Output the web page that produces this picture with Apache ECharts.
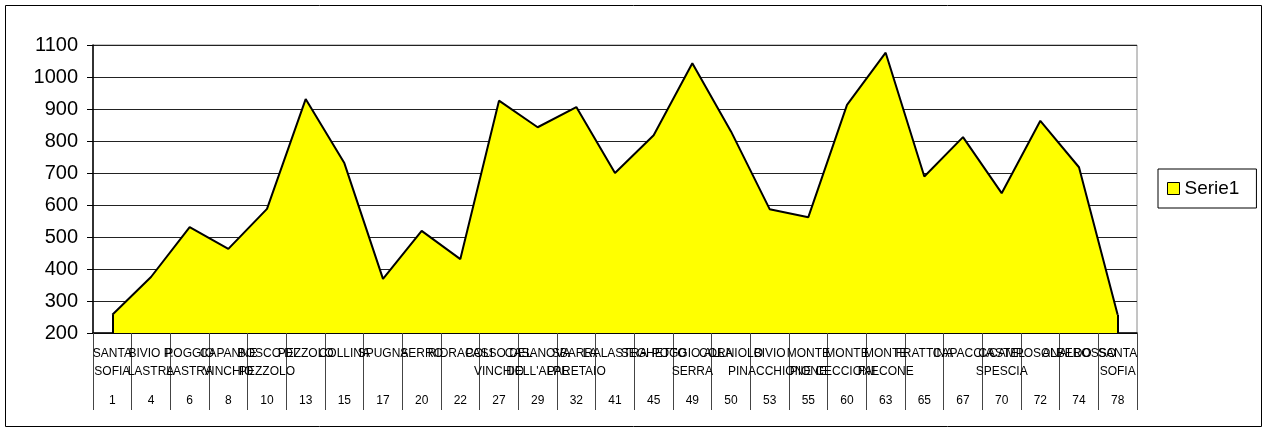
<!DOCTYPE html>
<html>
<head>
<meta charset="utf-8">
<script src="https://cdn.jsdelivr.net/npm/echarts@6/dist/echarts.min.js"></script>
<style>
  html, body { margin: 0; padding: 0; background: #ffffff; }
  #chart { width: 1265px; height: 433px; }
</style>
</head>
<body>
<div id="chart"></div>
<script>
// Route profile: place names, kilometre marks and altitude (m)
const placeNames = [
  'SANTA\nSOFIA', 'BIVIO P.\nLASTRA', 'POGGIO\nLASTRA', 'CAPANNE\nVINCHIO', 'BOSCO DI\nPEZZOLO',
  'PEZZOLO', 'COLLINA', 'SPUGNA', 'SERRO', 'RIDRACOLI',
  'PASSO DEL\nVINCHIO', 'CASANOVA\nDELL\'ALPE', 'SBARRA\nPARETAIO', 'LA LASTRA', 'SEGHETTO',
  'POGGIO ALLA\nSERRA', 'CORNIOLO', 'BIVIO\nPINACCHIONE', 'MONTE\nPIONE', 'MONTE\nCECCIONE',
  'MONTE\nFALCONE', 'FRATTINA', 'CAPACCIA', 'CASTEL\nSPESCIA', 'CAMPOSONALDO',
  'ALBEROSSO', 'SANTA\nSOFIA'
];
const kmMarks = ['1', '4', '6', '8', '10', '13', '15', '17', '20', '22', '27', '29', '32', '41',
  '45', '49', '50', '53', '55', '60', '63', '65', '67', '70', '72', '74', '78'];
const altitude = [257, 375, 531, 463, 588, 931, 731, 369, 519, 431, 926, 843, 906, 700,
  818, 1043, 830, 587, 562, 913, 1076, 689, 812, 637, 863, 718, 257];
const seriesName = 'Serie1';
const yMin = 200;
const yMax = 1100;
const yStep = 100;

const FONT = '"Liberation Sans", Arial, sans-serif';
const chart = echarts.init(document.getElementById('chart'), null, { renderer: 'canvas' });

const last = kmMarks.length - 1;

chart.setOption({
  animation: false,
  backgroundColor: '#ffffff',
  graphic: [{
    type: 'rect',
    shape: { x: 5.5, y: 5.5, width: 1256, height: 421 },
    style: { fill: 'none', stroke: '#000000', lineWidth: 1 },
    silent: true
  }],
  grid: {
    left: 93, right: 128, top: 45, bottom: 100,
    show: true, borderColor: '#8a8a8a', borderWidth: 1
  },
  legend: {
    left: 1158, top: 169,
    orient: 'vertical',
    padding: [10, 17, 10, 9],
    borderColor: '#000000', borderWidth: 1,
    backgroundColor: '#ffffff',
    icon: 'rect',
    itemWidth: 12, itemHeight: 12, itemGap: 8,
    itemStyle: { color: '#FFFF00', borderColor: '#000000', borderWidth: 1 },
    textStyle: { fontFamily: FONT, fontSize: 19, color: '#000000' },
    data: [seriesName]
  },
  xAxis: {
    type: 'category',
    data: kmMarks,
    boundaryGap: true,
    axisLine: { lineStyle: { color: '#000000', width: 1.5 } },
    axisTick: { show: true, interval: 0, length: 77, lineStyle: { color: '#444444', width: 1 } },
    axisLabel: {
      interval: 0,
      margin: 12,
      hideOverlap: false,
      formatter: function (val, idx) {
        const lines = placeNames[idx].split('\n');
        const l1 = lines[0] || ' ';
        const l2 = lines[1] || ' ';
        return '{n|' + l1 + '}\n{n|' + l2 + '}\n{k|' + val + '}';
      },
      rich: {
        n: { fontFamily: FONT, fontSize: 12, lineHeight: 18, color: '#000000' },
        k: { fontFamily: FONT, fontSize: 12, lineHeight: 40, color: '#000000' }
      }
    },
    splitLine: { show: false }
  },
  yAxis: {
    type: 'value',
    min: yMin, max: yMax, interval: yStep,
    axisLine: { show: true, lineStyle: { color: '#000000', width: 1.5 } },
    axisTick: { show: true, length: 6, lineStyle: { color: '#000000' } },
    axisLabel: {
      fontFamily: FONT, fontSize: 20, color: '#000000', margin: 15,
      formatter: function (v) { return String(v); }
    },
    splitLine: { show: true, lineStyle: { color: '#222222', width: 1 } }
  },
  series: [{
    name: seriesName,
    type: 'line',
    data: altitude,
    symbol: 'none',
    smooth: false,
    lineStyle: { color: '#000000', width: 2 },
    itemStyle: { color: '#FFFF00' },
    areaStyle: { color: '#FFFF00', opacity: 1, origin: 'start' },
    markLine: {
      silent: true,
      symbol: ['none', 'none'],
      label: { show: false },
      lineStyle: { color: '#000000', width: 2, type: 'solid' },
      data: [
        [{ coord: [kmMarks[0], yMin] }, { coord: [kmMarks[0], altitude[0]] }],
        [{ coord: [kmMarks[last], yMin] }, { coord: [kmMarks[last], altitude[last]] }]
      ]
    }
  }]
});
</script>
</body>
</html>
